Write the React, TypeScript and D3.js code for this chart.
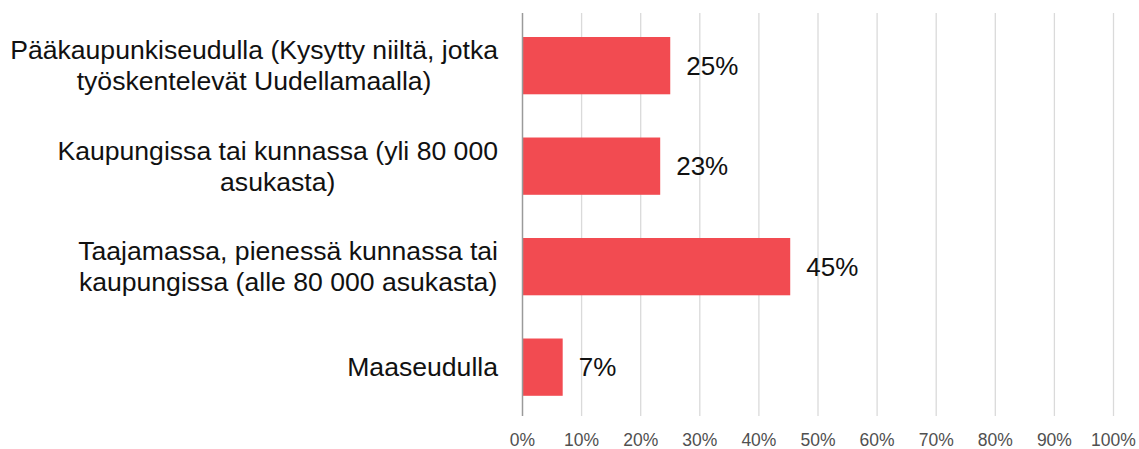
import React, { useEffect, useRef } from "react";
import * as d3 from "d3";

const categories: string[][] = [
  ["Pääkaupunkiseudulla (Kysytty niiltä, jotka", "työskentelevät Uudellamaalla)"],
  ["Kaupungissa tai kunnassa (yli 80 000", "asukasta)"],
  ["Taajamassa, pienessä kunnassa tai", "kaupungissa (alle 80 000 asukasta)"],
  ["Maaseudulla"],
];
const values: number[] = [0.25, 0.233, 0.453, 0.068];
const valueLabels: string[] = ["25%", "23%", "45%", "7%"];
const ticks: number[] = [0, 0.1, 0.2, 0.3, 0.4, 0.5, 0.6, 0.7, 0.8, 0.9, 1.0];

const W = 1139;
const H = 449;
const FONT = "'Liberation Sans', Arial, sans-serif";

export default function App() {
  const ref = useRef<SVGSVGElement | null>(null);

  useEffect(() => {
    const svg = d3.select(ref.current);
    svg.selectAll("*").remove();

    const x = d3.scaleLinear().domain([0, 1]).range([522.5, 1113.5]);
    const y = d3
      .scaleBand<number>()
      .domain(d3.range(categories.length))
      .range([15.4, 417.4])
      .paddingInner(0.43)
      .paddingOuter(0.215);

    // gridlines
    svg
      .append("g")
      .selectAll("line")
      .data(ticks.slice(1))
      .join("line")
      .attr("x1", (d) => x(d))
      .attr("x2", (d) => x(d))
      .attr("y1", 13)
      .attr("y2", 416)
      .attr("stroke", "#dadada")
      .attr("stroke-width", 1.3);

    // bars
    svg
      .append("g")
      .selectAll("rect")
      .data(values)
      .join("rect")
      .attr("x", x(0))
      .attr("y", (_, i) => y(i)!)
      .attr("width", (d) => x(d) - x(0))
      .attr("height", y.bandwidth())
      .attr("fill", "#f24b51");

    // axis line
    svg
      .append("line")
      .attr("x1", x(0))
      .attr("x2", x(0))
      .attr("y1", 13)
      .attr("y2", 416)
      .attr("stroke", "#9a9a9a")
      .attr("stroke-width", 1.5);

    // value labels
    svg
      .append("g")
      .selectAll("text")
      .data(values)
      .join("text")
      .attr("x", (d) => x(d) + 16)
      .attr("y", (_, i) => y(i)! + y.bandwidth() / 2)
      .attr("dy", "0.35em")
      .attr("font-family", FONT)
      .attr("font-size", 26)
      .attr("fill", "#111")
      .text((_, i) => valueLabels[i]);

    // tick labels
    svg
      .append("g")
      .selectAll("text")
      .data(ticks)
      .join("text")
      .attr("x", (d) => x(d))
      .attr("y", 446)
      .attr("text-anchor", "middle")
      .attr("font-family", FONT)
      .attr("font-size", 17.5)
      .attr("fill", "#505050")
      .text((d) => d3.format(".0%")(d));

    // category labels (multi-line, centered within block, block right-aligned)
    const rightEdge = 498;
    const lineH = 31;
    categories.forEach((lines, i) => {
      const g = svg.append("g");
      const texts = lines.map((ln) =>
        g
          .append("text")
          .attr("font-family", FONT)
          .attr("font-size", 26.6)
          .attr("fill", "#111")
          .attr("text-anchor", "middle")
          .text(ln)
      );
      const widths = texts.map((t) => (t.node() as SVGTextElement).getComputedTextLength());
      const maxW = Math.max(...widths);
      const cx = rightEdge - maxW / 2;
      const cy = y(i)! + y.bandwidth() / 2;
      const top = cy - ((lines.length - 1) * lineH) / 2;
      texts.forEach((t, k) => {
        t.attr("x", cx).attr("y", top + k * lineH).attr("dy", "0.35em");
      });
    });
  }, []);

  return (
    <svg
      ref={ref}
      width={W}
      height={H}
      style={{ position: "absolute", left: 0, top: 0, background: "#fff" }}
    />
  );
}
